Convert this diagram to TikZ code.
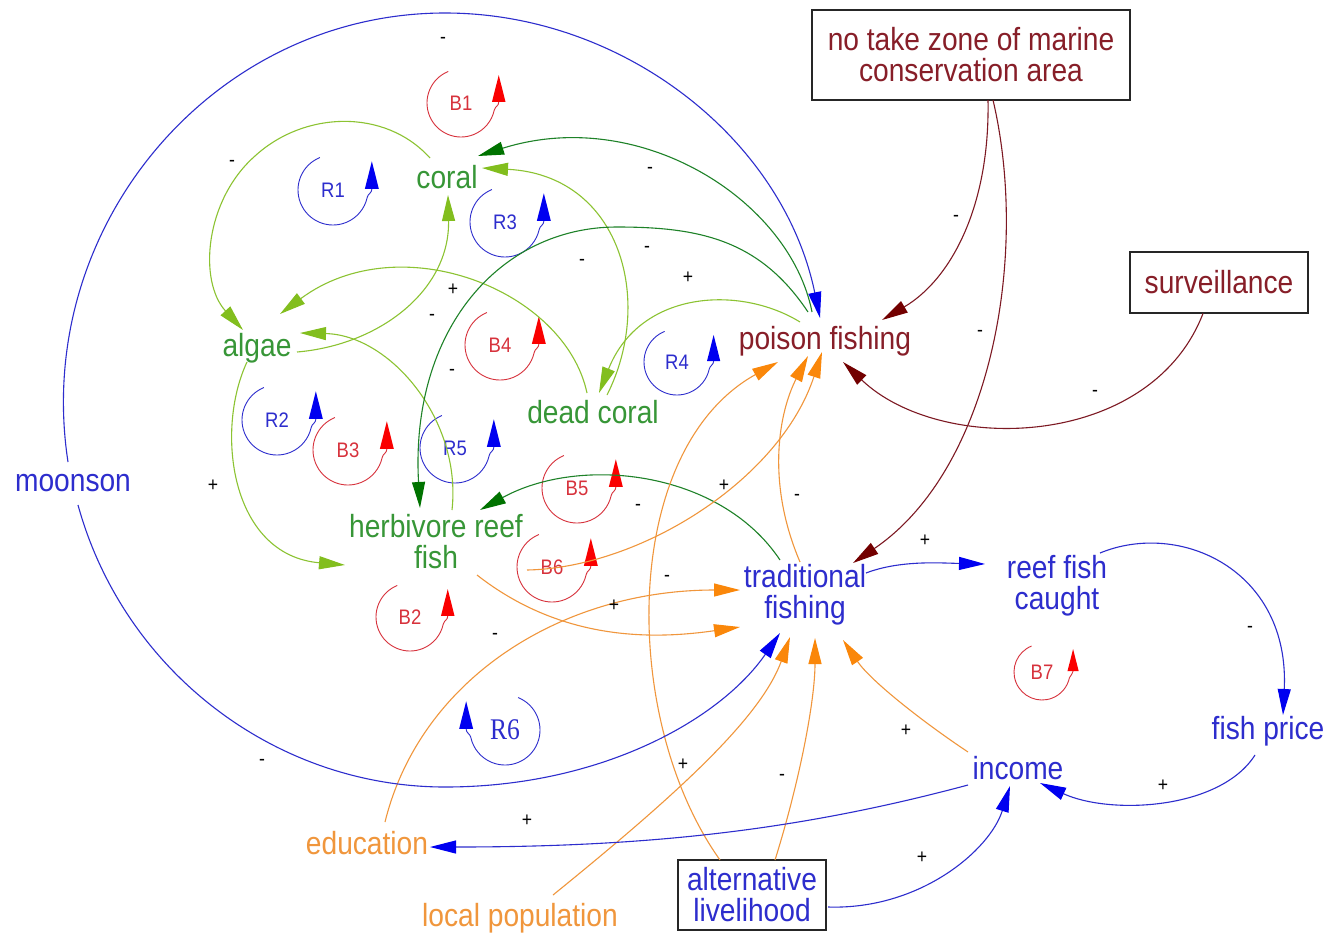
\documentclass[tikz,border=0pt]{standalone}
\usepackage{fontspec}
\setmainfont{Liberation Sans}[FakeStretch=0.88]
\newfontfamily\loopserif{Liberation Serif}[FakeStretch=0.85]
\usetikzlibrary{arrows.meta}

\definecolor{txtgreen}{RGB}{55,150,55}
\definecolor{lgreen}{RGB}{140,195,50}
\definecolor{lgreenhead}{RGB}{130,190,30}
\definecolor{dgreen}{RGB}{30,130,40}
\definecolor{dgreenhead}{RGB}{0,115,0}
\definecolor{cldblue}{RGB}{45,45,205}
\definecolor{bluehead}{RGB}{0,0,240}
\definecolor{maroontxt}{RGB}{135,30,40}
\definecolor{maroonline}{RGB}{125,25,35}
\definecolor{maroonhead}{RGB}{115,0,0}
\definecolor{cldorange}{RGB}{240,150,60}
\definecolor{orangehead}{RGB}{250,135,10}
\definecolor{loopred}{RGB}{215,50,60}
\definecolor{redhead}{RGB}{250,0,0}

\tikzset{
  link/.style 2 args={line width=1.1pt, draw=#1,
    -{Triangle[length=26pt,width=13pt,color=#2]}},
  lg/.style={link={lgreen}{lgreenhead}},
  dg/.style={link={dgreen}{dgreenhead}},
  bl/.style={link={cldblue}{bluehead}},
  or/.style={link={cldorange}{orangehead}},
  mr/.style={link={maroonline}{maroonhead}},
  var/.style={font=\fontsize{32}{31}\selectfont, align=center, inner sep=1pt},
  varbox/.style={var, draw=black!85, line width=1.3pt},
  pol/.style={font=\fontsize{20}{20}\selectfont, inner sep=0pt},
  % loop marker: #1 line/text colour, #2 head colour, #3 label, #4 radius
  pics/cldloop/.style n args={4}{code={
    \begin{scope}[yscale=-1]
      \draw[line width=0.9pt, #1] (112:#4) arc[start angle=112, end angle=348, radius=#4]
        .. controls +(75:0.12*#4) and +(0,-0.12*#4) .. (1.11*#4, 0.03*#4);
      \fill[#2] (0.91*#4, 0.03*#4) -- (1.31*#4, 0.03*#4) -- (1.11*#4, 0.82*#4) -- cycle;
    \end{scope}
    \node[font=\fontsize{21}{21}\selectfont, text=#1, inner sep=0pt] (-label) at (0,0) {#3};
  }}
}

\begin{document}
\begin{tikzpicture}[x=1pt, y=-1pt]
\useasboundingbox[fill=white] (0,0) rectangle (1340,937);

% variables
\node[var, text=txtgreen] (coral) at (447,177) {coral};
\node[var, text=txtgreen] (algae) at (257,348) {algae};
\node[var, text=txtgreen] (dead) at (593,412) {dead coral};
\node[var, text=txtgreen] (herb) at (436,542) {herbivore reef\\fish};
\node[var, text=maroontxt] (poison) at (825,341) {poison fishing};
\node[var, text=cldblue] (trad) at (805,595) {traditional\\fishing};
\node[var, text=cldblue] (caught) at (1057,586) {reef fish\\caught};
\node[var, text=cldblue] (price) at (1268,731) {fish price};
\node[var, text=cldblue] (income) at (1018,768) {income};
\node[var, text=cldorange] (edu) at (367,843) {education};
\node[var, text=cldorange] (pop) at (520,918) {local population};
\node[var, text=cldblue] (monsoon) at (73,483) {moonson};
\node[varbox, text=cldblue, minimum width=148pt, minimum height=70pt] (alt) at (752,895) {alternative\\livelihood};
\node[varbox, text=maroontxt, minimum width=318pt, minimum height=90pt] (notake) at (971,55) {no take zone of marine\\conservation area};
\node[varbox, text=maroontxt, minimum width=178pt, minimum height=61pt] (surv) at (1219,282.5) {surveillance};

% loop markers
\pic (loopB1) at (461,103) {cldloop={loopred}{redhead}{B1}{34}};
\pic (loopR1) at (333,190) {cldloop={cldblue}{bluehead}{R1}{35}};
\pic (loopR3) at (505,222) {cldloop={cldblue}{bluehead}{R3}{35}};
\pic (loopB4) at (500,345) {cldloop={loopred}{redhead}{B4}{35}};
\pic (loopR4) at (677,362) {cldloop={cldblue}{bluehead}{R4}{33}};
\pic (loopR2) at (277,420) {cldloop={cldblue}{bluehead}{R2}{35}};
\pic (loopB3) at (348,450) {cldloop={loopred}{redhead}{B3}{35}};
\pic (loopR5) at (455,448) {cldloop={cldblue}{bluehead}{R5}{35}};
\pic (loopB5) at (577,488) {cldloop={loopred}{redhead}{B5}{35}};
\pic (loopB6) at (552,567) {cldloop={loopred}{redhead}{B6}{35}};
\pic (loopB2) at (410,617) {cldloop={loopred}{redhead}{B2}{34}};
\pic (loopB7) at (1042,672) {cldloop={loopred}{redhead}{B7}{28}};
\pic[xscale=-1] (loopR6) at (505,730) {cldloop={cldblue}{bluehead}{\fontsize{30}{30}\loopserif R6}{35}};

% reef ecology links
\draw[lg] ([shift={(-17,-19)}]coral.center) .. controls +(-45,-50) and +(49,-45) .. ++(-175,-2)
  .. controls +(-50,44) and +(-45,-49) .. ([shift={(-14,-18)}]algae.center);
\draw[lg] ([shift={(40,4)}]algae.center) .. controls +(83,-7) and +(2,95) .. ([shift={(1,18)}]coral.center);
\draw[lg] ([shift={(-6,-19)}]dead.center) .. controls +(-22,-103) and +(120,-89) .. ([shift={(23,-34)}]algae.center);
\draw[lg] ([shift={(16,-32)}]herb.center) .. controls +(10,-90) and +(90,2) .. ([shift={(43,-15)}]algae.center);
\draw[lg] ([shift={(-10,14)}]algae.center) .. controls +(-32,68) and +(-115,-10) .. ([shift={(-91,23)}]herb.center);
\draw[dg] ([shift={(-13,-29)}]poison.center) .. controls +(-22,-112) and +(162,-51) .. ([shift={(31,-21)}]coral.center);
\draw[lg] ([shift={(14,-17)}]dead.center) .. controls +(48,-95) and +(138,7) .. ([shift={(35,-9)}]coral.center);
\draw[dg] ([shift={(-17,-29)}]poison.center) .. controls +(-48,-72) and +(83,0) .. ++(-191,-85)
  .. controls +(-117,0) and +(-10,-178) .. ([shift={(-16,-34)}]herb.center);
\draw[lg] ([shift={(-25,-19)}]poison.center) .. controls +(-60,-37) and +(41,-103) .. ([shift={(6,-19)}]dead.center);
\draw[dg] ([shift={(-25,-35)}]trad.center) .. controls +(-60,-90) and +(100,-55) .. ([shift={(44,-32)}]herb.center);

% fishing pressure links
\draw[or] ([shift={(41,33)}]herb.center) .. controls +(83,65) and +(-90,13) .. ([shift={(-65,32)}]trad.center);
\draw[or] ([shift={(18,-21)}]edu.center) .. controls +(35,-142) and +(-180,0) .. ([shift={(-65,-5)}]trad.center);
\draw[or] ([shift={(91,28)}]herb.center) .. controls +(113,-2) and +(-42,128) .. ([shift={(-3,11)}]poison.center);
\draw[or] ([shift={(-5,-33)}]trad.center) .. controls +(-35,-82) and +(-28,54) .. ([shift={(-17,15)}]poison.center);
\draw[or] ([shift={(-32,-35)}]alt.center) .. controls +(-100,-140) and +(-158,88) .. ([shift={(-47,21)}]poison.center);
\draw[or] ([shift={(33,-23)}]pop.center) .. controls +(117,-95) and +(-30,83) .. ([shift={(-15,42)}]trad.center);
\draw[or] ([shift={(23,-35)}]alt.center) .. controls +(25,-80) and +(0,62) .. ([shift={(10,43)}]trad.center);
\draw[or] ([shift={(-50,-16)}]income.center) .. controls +(-48,-32) and +(27,40) .. ([shift={(38,45)}]trad.center);

% monsoon and economy links
\draw[bl] ([shift={(-5,-21)}]monsoon.center) .. controls +(-36,-235) and +(-232,0) .. ++(377,-449)
  .. controls +(178,0) and +(-37,-179) .. ([shift={(-5,-23)}]poison.center);
\draw[bl] ([shift={(5,22)}]monsoon.center) .. controls +(46,167) and +(-169,0) .. ++(367,282)
  .. controls +(155,0) and +(-60,87) .. ([shift={(-25,38)}]trad.center);
\draw[bl] ([shift={(61,-22)}]trad.center) .. controls +(34,-13) and +(-45,-1) .. ([shift={(-72,-22)}]caught.center);
\draw[bl] ([shift={(43,-33)}]caught.center) .. controls +(80,-33) and +(7,-145) .. ([shift={(15,-16)}]price.center);
\draw[bl] ([shift={(-13,24)}]price.center) .. controls +(-35,55) and +(70,32) .. ([shift={(22,15)}]income.center);
\draw[bl] ([shift={(-50,17)}]income.center) .. controls +(-168,45) and +(220,0) .. ([shift={(63,4)}]edu.center);
\draw[bl] ([shift={(76,12)}]alt.center) .. controls +(92,3) and +(-20,64) .. ([shift={(-8,18)}]income.center);

% management links
\draw[mr] ([shift={(17,45)}]notake.center) .. controls +(2,108) and +(68,-40) .. ([shift={(57,-21)}]poison.center);
\draw[mr] ([shift={(22,45)}]notake.center) .. controls +(37,158) and +(137,-93) .. ([shift={(48,-32)}]trad.center);
\draw[mr] ([shift={(-16,31)}]surv.center) .. controls +(-53,137) and +(97,93) .. ([shift={(18,21)}]poison.center);

% link polarities
\node[pol] (s1) at (443,40) {-};
\node[pol] (s2) at (232,163) {-};
\node[pol] (s3) at (650,170) {-};
\node[pol] (s4) at (647,249) {-};
\node[pol] (s5) at (582,262) {-};
\node[pol] (s6) at (453,290) {+};
\node[pol] (s7) at (688,278) {+};
\node[pol] (s8) at (432,317) {-};
\node[pol] (s9) at (452,372) {-};
\node[pol] (s10) at (213,486) {+};
\node[pol] (s11) at (724,486) {+};
\node[pol] (s12) at (797,497) {-};
\node[pol] (s13) at (638,507) {-};
\node[pol] (s14) at (667,578) {-};
\node[pol] (s15) at (614,606) {+};
\node[pol] (s16) at (495,636) {-};
\node[pol] (s17) at (925,541) {+};
\node[pol] (s18) at (1250,629) {-};
\node[pol] (s19) at (956,218) {-};
\node[pol] (s20) at (980,333) {-};
\node[pol] (s21) at (1095,393) {-};
\node[pol] (s22) at (906,731) {+};
\node[pol] (s23) at (262,762) {-};
\node[pol] (s24) at (683,765) {+};
\node[pol] (s25) at (782,777) {-};
\node[pol] (s26) at (1163,786) {+};
\node[pol] (s27) at (527,821) {+};
\node[pol] (s28) at (922,858) {+};
\end{tikzpicture}
\end{document}
